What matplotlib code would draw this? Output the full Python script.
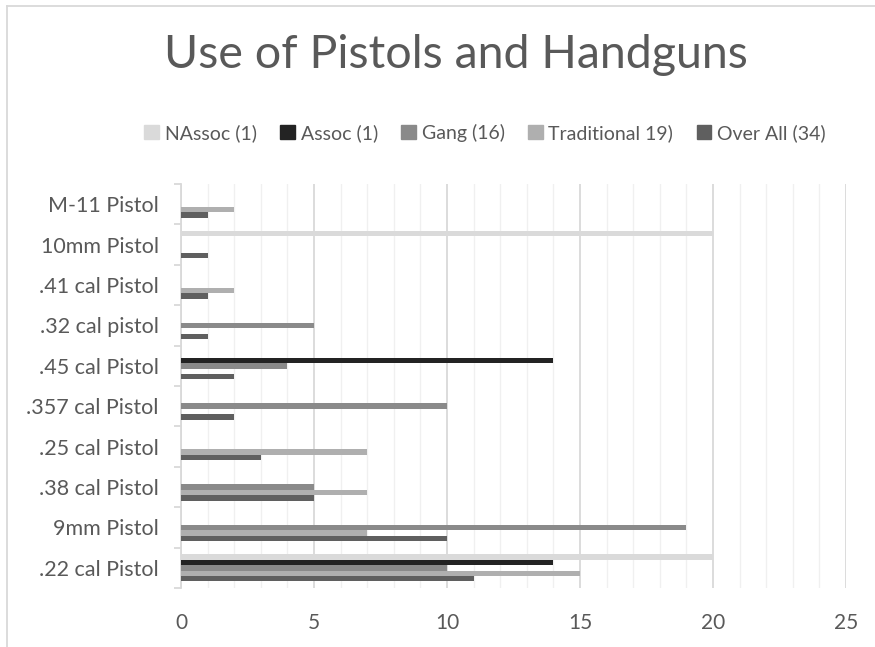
import matplotlib
matplotlib.use("Agg")
import matplotlib.pyplot as plt
from matplotlib.lines import Line2D
import numpy as np

categories = [".22 cal Pistol", "9mm Pistol", ".38 cal Pistol", ".25 cal Pistol",
              ".357 cal Pistol", ".45 cal Pistol", ".32 cal pistol", ".41 cal Pistol",
              "10mm Pistol", "M-11 Pistol"]
series_names = ["NAssoc (1)", "Assoc (1)", "Gang (16)", "Traditional 19)", "Over All (34)"]
nassoc      = [20, 0, 0, 0, 0, 0, 0, 0, 20, 0]
assoc       = [14, 0, 0, 0, 0, 14, 0, 0, 0, 0]
gang        = [10, 19, 5, 0, 10, 4, 5, 0, 0, 0]
traditional = [15, 7, 7, 7, 0, 0, 0, 2, 0, 2]
over_all    = [11, 10, 5, 3, 2, 2, 1, 1, 1, 1]
x_ticks = [0, 5, 10, 15, 20, 25]

colors = ["#DADADA", "#232323", "#8A8A8A", "#AFAFAF", "#5F5F5F"]
txt = "#595959"
plt.rcParams['font.family'] = ['Lato', 'DejaVu Sans']

fig = plt.figure(figsize=(8.75, 6.47), dpi=100)
ax = fig.add_axes([181/875, 1-588/647, 665/875, 404/647])

y = np.arange(len(categories))
h = 0.134
all_series = [nassoc, assoc, gang, traditional, over_all]
for j, (vals, c, name) in enumerate(zip(all_series, colors, series_names)):
    ax.barh(y + (2 - j) * h, vals, height=h, color=c, label=name, zorder=3)

ax.set_xlim(0, 25)
ax.set_ylim(-0.5, len(categories) - 0.5)
ax.set_xticks(x_ticks)
ax.set_xticks(np.arange(0, 26, 1), minor=True)
ax.grid(axis='x', which='major', color='#D9D9D9', lw=1.3, zorder=0)
ax.grid(axis='x', which='minor', color='#F0F0F0', lw=1.0, zorder=0)
ax.tick_params(axis='x', which='both', length=0, labelsize=15, labelcolor=txt, pad=18)

ax.set_yticks(np.arange(-0.5, len(categories), 1))
ax.set_yticklabels([])
ax.set_yticks(y, minor=True)
ax.set_yticklabels(categories, minor=True)
ax.tick_params(axis='y', which='major', length=5, color='#D9D9D9', width=1.3)
ax.tick_params(axis='y', which='minor', length=0, labelsize=15.5, labelcolor=txt, pad=16)

for s in ['top', 'right', 'bottom']:
    ax.spines[s].set_visible(False)
ax.spines['left'].set_color('#D9D9D9')
ax.spines['left'].set_linewidth(1.3)
ax.set_axisbelow(True)

fig.text(456/875, 1-55/647, "Use of Pistols and Handguns", ha='center', va='center',
         fontsize=33.5, color=txt)

handles = [plt.Rectangle((0, 0), 1, 1, color=c) for c in colors]
fig.legend(handles, series_names, loc='center', bbox_to_anchor=(485/875, 1-133/647),
           ncol=5, frameon=False, fontsize=14, labelcolor=txt,
           handlelength=0.75, handleheight=0.75, handletextpad=0.3, columnspacing=1.2)

# partial chart border (left and top visible)
fig.add_artist(Line2D([6.5/875, 6.5/875], [0, 1-5.5/647], color='#D9D9D9', lw=1.3,
                      transform=fig.transFigure))
fig.add_artist(Line2D([6.5/875, 1], [1-5.5/647, 1-5.5/647], color='#D9D9D9', lw=1.3,
                      transform=fig.transFigure))

fig.savefig("out.png", dpi=100)
